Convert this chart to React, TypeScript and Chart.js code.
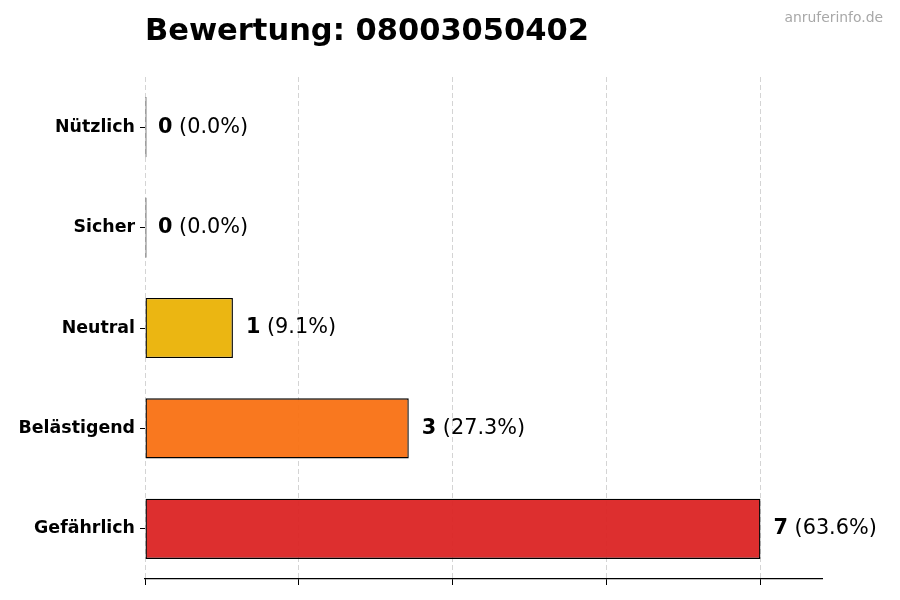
import React, { useEffect, useRef } from "react";
import { Chart, registerables } from "chart.js";

Chart.register(...registerables);

const categories = ["Nützlich", "Sicher", "Neutral", "Belästigend", "Gefährlich"];
const counts = [0, 0, 1, 3, 7];
const percents = ["0.0%", "0.0%", "9.1%", "27.3%", "63.6%"];
const barColors = ["#22C55E", "#3B82F6", "#EAB308", "#F97316", "#DC2626"];
const xTicks = [0, 1.75, 3.5, 5.25, 7];
const titleText = "Bewertung: 08003050402";
const watermarkText = "anruferinfo.de";

const FONT = "DejaVu Sans";

const labelPlugin = {
  id: "labelsAndTitle",
  afterDraw(chart: any) {
    const ctx = chart.ctx;
    const xs = chart.scales.x;
    const meta = chart.getDatasetMeta(0);
    ctx.save();
    ctx.fillStyle = "#000";
    ctx.font = `bold 30.5px "${FONT}"`;
    ctx.textAlign = "left";
    ctx.textBaseline = "alphabetic";
    ctx.fillText(titleText, chart.chartArea.left, 40);
    ctx.fillStyle = "#a8a8a8";
    ctx.font = `13.9px "${FONT}"`;
    ctx.textAlign = "right";
    ctx.fillText(watermarkText, 883, 22);
    ctx.textAlign = "left";
    ctx.textBaseline = "middle";
    meta.data.forEach((bar: any, i: number) => {
      const x = xs.getPixelForValue(counts[i]) + 13;
      const y = bar.y;
      ctx.fillStyle = "#000";
      ctx.font = `bold 20.8px "${FONT}"`;
      const bold = String(counts[i]);
      ctx.fillText(bold, x, y);
      const w = ctx.measureText(bold).width;
      ctx.font = `20.8px "${FONT}"`;
      ctx.fillText(` (${percents[i]})`, x + w, y);
    });
    ctx.restore();
  },
};

export default function App() {
  const ref = useRef<HTMLCanvasElement | null>(null);
  useEffect(() => {
    if (!ref.current) return;
    const chart = new Chart(ref.current, {
      type: "bar",
      data: {
        labels: categories,
        datasets: [
          {
            data: counts,
            backgroundColor: barColors.map((c) => c + "F5"),
            borderColor: "#000",
            borderWidth: 1.4,
            borderSkipped: false,
            barPercentage: 0.6,
            categoryPercentage: 1,
            minBarLength: 1.5,
          },
        ],
      },
      options: {
        indexAxis: "y",
        animation: false,
        responsive: true,
        maintainAspectRatio: false,
        layout: { padding: { top: 77, right: 78, left: 0, bottom: 0 } },
        plugins: {
          legend: { display: false },
          tooltip: { enabled: false },
          title: { display: false },
        },
        scales: {
          x: {
            type: "linear",
            min: 0,
            max: 7.7,
            afterBuildTicks: (scale: any) => {
              scale.ticks = xTicks.map((v) => ({ value: v, label: "" }));
            },
            afterFit: (scale: any) => {
              scale.height = 21;
            },
            ticks: { display: false },
            grid: {
              color: "rgba(170,170,170,0.5)",
              lineWidth: 1,
              drawTicks: true,
              tickLength: 6,
              tickColor: "#000",
              tickWidth: 1,
              tickBorderDash: [],
            },
            border: { display: true, color: "#000", width: 1.2, dash: [5, 3] },
          },
          y: {
            type: "category",
            afterFit: (scale: any) => {
              scale.width = 145;
            },
            ticks: {
              color: "#000",
              font: { family: FONT, size: 17.4, weight: "bold" },
              padding: 5,
            },
            grid: {
              offset: false,
              drawOnChartArea: false,
              drawTicks: true,
              tickLength: 5,
              tickColor: "#000",
              tickWidth: 1,
            },
            border: { display: false },
          },
        },
      },
      plugins: [labelPlugin],
    } as any);
    return () => chart.destroy();
  }, []);
  return (
    <div style={{ position: "fixed", left: 0, top: 0, width: 900, height: 600, background: "#fff" }}>
      <canvas ref={ref} />
    </div>
  );
}
